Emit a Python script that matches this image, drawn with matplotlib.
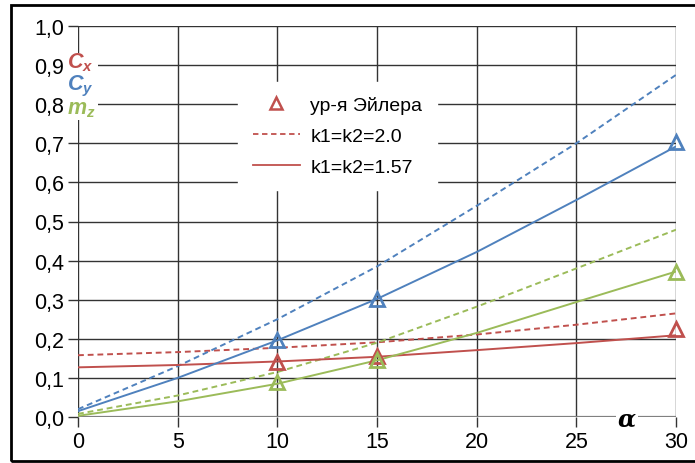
import matplotlib.pyplot as plt
from matplotlib.patches import Rectangle
from matplotlib.lines import Line2D

plt.rcParams['font.family'] = ['Liberation Sans', 'DejaVu Sans']
# bold italic sans for the coefficient names with subscripts
plt.rcParams['mathtext.fontset'] = 'custom'
plt.rcParams['mathtext.bf'] = 'Liberation Sans:bold:italic'
plt.rcParams['mathtext.it'] = 'Liberation Sans:italic'
plt.rcParams['mathtext.rm'] = 'Liberation Sans'

RED = "#C0504D"
BLUE = "#4F81BD"
GREEN = "#9BBB59"

# angle of attack, degrees
alpha = [0, 5, 10, 15, 20, 25, 30]

# k1=k2=2.0 (dashed)
cx_20 = [0.158, 0.166, 0.177, 0.191, 0.211, 0.236, 0.265]
cy_20 = [0.020, 0.130, 0.250, 0.385, 0.540, 0.700, 0.875]
mz_20 = [0.008, 0.055, 0.115, 0.190, 0.282, 0.380, 0.479]

# k1=k2=1.57 (solid)
cx_157 = [0.127, 0.133, 0.142, 0.154, 0.171, 0.189, 0.209]
cy_157 = [0.015, 0.100, 0.196, 0.302, 0.422, 0.555, 0.692]
mz_157 = [0.003, 0.040, 0.085, 0.145, 0.215, 0.294, 0.372]

# Euler equation results
alpha_e = [10, 15, 30]
cx_e = [0.140, 0.155, 0.225]
cy_e = [0.196, 0.302, 0.703]
mz_e = [0.090, 0.145, 0.370]

xticks = [0, 5, 10, 15, 20, 25, 30]
yticks = [i / 10 for i in range(11)]

fig = plt.figure(figsize=(6.95, 4.64), dpi=100)
ax = fig.add_axes([78 / 695, 1 - 418 / 464, 598 / 695, 391 / 464])

grid_c = "#333333"
for x in xticks:
    ax.axvline(x, color=grid_c, lw=1.0, zorder=1)
for y in yticks[1:]:
    ax.axhline(y, color=grid_c, lw=1.0, zorder=1)
ax.axhline(0, color="#808080", lw=1.6, zorder=1)

for ys, c in [(cx_20, RED), (cy_20, BLUE), (mz_20, GREEN)]:
    ax.plot(alpha, ys, color=c, lw=1.4, ls=(0, (3, 2)), zorder=3)
for ys, c in [(cx_157, RED), (cy_157, BLUE), (mz_157, GREEN)]:
    ax.plot(alpha, ys, color=c, lw=1.4, zorder=3)
for ys, c in [(cx_e, RED), (cy_e, BLUE), (mz_e, GREEN)]:
    ax.plot(alpha_e, ys, ls="none", marker="^", ms=10, mfc="none",
            mec=c, mew=2, zorder=4, clip_on=False)

ax.set_xlim(0, 30)
ax.set_ylim(0, 1.0)
ax.set_xticks(xticks)
ax.set_yticks(yticks)
ax.set_yticklabels([f"{v:.1f}".replace(".", ",") for v in yticks])
ax.tick_params(axis="both", labelsize=15.5, length=7, width=1.0,
               color=grid_c, direction="out", pad=3)
for s in ax.spines.values():
    s.set_visible(False)

# coefficient names on the vertical axis, on a white patch over the grid
ax.add_patch(Rectangle((-0.6, 0.76), 1.6, 0.17, facecolor="white",
                       edgecolor="none", zorder=4.5, clip_on=False))
for txt, y, c in [(r"$\mathbf{C_x}$", 0.908, RED),
                  (r"$\mathbf{C_y}$", 0.848, BLUE),
                  (r"$\mathbf{m_z}$", 0.788, GREEN)]:
    ax.text(-0.55, y, txt, color=c, ha="left", va="center", fontsize=15.5,
            zorder=5, clip_on=False)

ax.text(27.55, -0.004, "α", ha="center", va="center", fontsize=17,
        fontweight="bold", style="italic", family="DejaVu Serif",
        bbox=dict(facecolor="white", edgecolor="none", pad=1.5), zorder=5)

handles = [
    Line2D([], [], ls="none", marker="^", ms=9, mfc="none", mec=RED, mew=1.8),
    Line2D([], [], color=RED, lw=1.3, ls=(0, (3, 2))),
    Line2D([], [], color=RED, lw=1.3),
]
leg = ax.legend(handles, ["ур-я Эйлера", "k1=k2=2.0", "k1=k2=1.57"],
                loc="upper left", bbox_to_anchor=(0.268, 0.858),
                fontsize=14, frameon=True, fancybox=False, framealpha=1,
                edgecolor="white", handlelength=2.4, labelspacing=0.68,
                borderpad=0.75, handletextpad=0.55, borderaxespad=0)
leg.set_zorder(6)

fig.add_artist(Rectangle((11 / 695, 2 / 464), 1.0, 1 - 8 / 464,
                         transform=fig.transFigure, fill=False,
                         edgecolor="black", lw=2))

fig.savefig("out.png", dpi=100)
